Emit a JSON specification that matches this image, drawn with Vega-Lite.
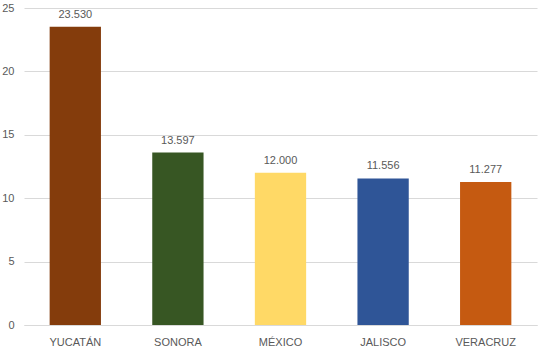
{
  "$schema": "https://vega.github.io/schema/vega-lite/v6.json",
  "width": 513,
  "height": 317,
  "autosize": "none",
  "padding": {"left": 24, "top": 8, "right": 4, "bottom": 26},
  "background": "white",
  "config": {"view": {"stroke": null}, "font": "Liberation Sans"},
  "data": {"values": [
    {"estado": "YUCATÁN", "valor": 23.53, "color": "#843C0C"},
    {"estado": "SONORA", "valor": 13.597, "color": "#375623"},
    {"estado": "MÉXICO", "valor": 12.0, "color": "#FFD966"},
    {"estado": "JALISCO", "valor": 11.556, "color": "#2F5597"},
    {"estado": "VERACRUZ", "valor": 11.277, "color": "#C55A11"}
  ]},
  "encoding": {
    "x": {"field": "estado", "type": "nominal", "sort": null,
      "scale": {"paddingInner": 0.5, "paddingOuter": 0.25},
      "axis": {"title": null, "labelAngle": 0, "domain": true, "domainColor": "#d9d9d9", "ticks": false,
        "labelColor": "#595959", "labelFontSize": 11, "labelPadding": 11}},
    "y": {"field": "valor", "type": "quantitative",
      "scale": {"domain": [0, 25], "nice": false},
      "axis": {"title": null, "values": [0, 5, 10, 15, 20, 25], "domain": false, "ticks": false,
        "gridColor": "#d9d9d9", "labelColor": "#595959", "labelFontSize": 11, "labelPadding": 10}}
  },
  "layer": [
    {"mark": {"type": "bar"},
     "encoding": {"color": {"field": "color", "type": "nominal", "scale": null}}},
    {"mark": {"type": "text", "baseline": "bottom", "dy": -7, "fontSize": 11, "color": "#595959"},
     "encoding": {"text": {"field": "valor", "type": "quantitative", "format": ".3f"}}}
  ]
}
